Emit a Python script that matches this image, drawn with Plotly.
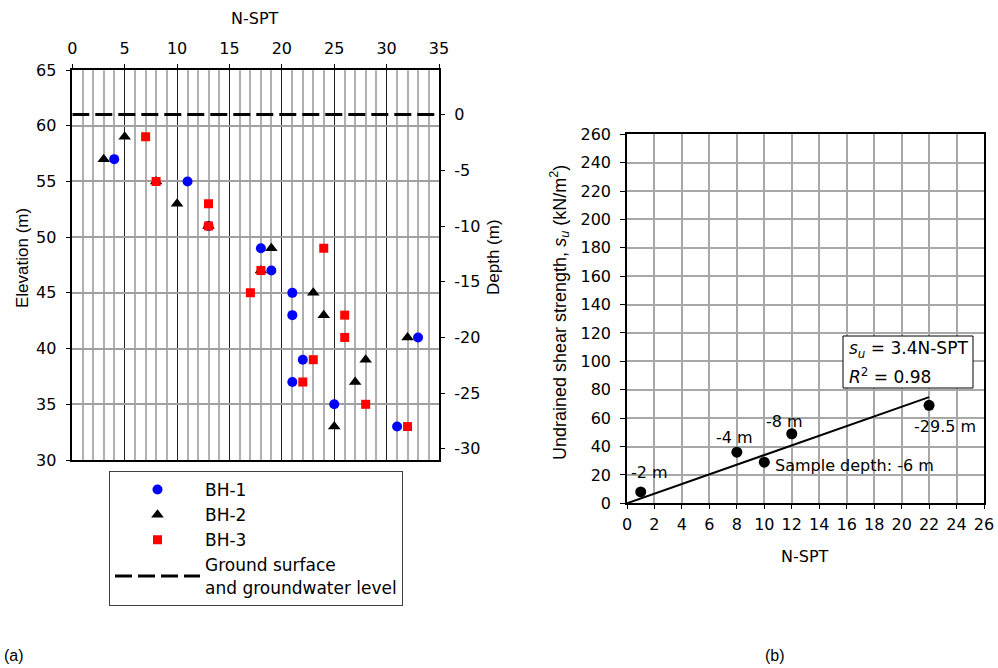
import plotly.graph_objects as go

# ---------------- data ----------------
# Left panel (a): N-SPT vs elevation for three boreholes
bh1_nspt = [4, 11, 13, 18, 19, 21, 21, 33, 22, 21, 25, 31]
bh1_elev = [57, 55, 51, 49, 47, 45, 43, 41, 39, 37, 35, 33]

bh2_nspt = [5, 3, 8, 10, 13, 19, 18, 23, 24, 32, 28, 27, 25]
bh2_elev = [59, 57, 55, 53, 51, 49, 47, 45, 43, 41, 39, 37, 33]

bh3_nspt = [7, 8, 13, 13, 24, 18, 17, 26, 26, 23, 22, 28, 32]
bh3_elev = [59, 55, 53, 51, 49, 47, 45, 43, 41, 39, 37, 35, 33]

ground_x = [0, 35]
ground_depth = [0, 0]
ground_elevation = 61

depth_ticks = [0, -5, -10, -15, -20, -25, -30]
depth_ticktext = ["0", "-5", "-10", "-15", "-20", "-25", "-30"]

# Right panel (b): undrained shear strength vs N-SPT
su_nspt = [1, 8, 10, 12, 22]
su_vals = [8, 36, 29, 49, 69]
su_labels = ["-2 m", "-4 m", "Sample depth: -6 m", "-8 m", "-29.5 m"]
trend_x = [0, 22]
trend_y = [0, 74.8]
eq_lines = ["<i>s<sub>u</sub></i> = 3.4N-SPT", "<i>R</i><sup>2</sup> = 0.98"]

FONT = "DejaVu Sans"
VFONT = "Liberation Sans"
W, H = 998, 668


def px(x):
    return x / W


def py(y):
    return 1 - y / H


fig = go.Figure()

# ---- left panel traces ----
fig.add_trace(go.Scatter(
    x=bh1_nspt, y=bh1_elev, mode="markers", name="BH-1",
    marker=dict(symbol="circle", size=10, color="#0000ff"),
    xaxis="x", yaxis="y"))
fig.add_trace(go.Scatter(
    x=bh2_nspt, y=bh2_elev, mode="markers", name="BH-2",
    marker=dict(symbol="triangle-up", size=11, color="#000000"),
    xaxis="x", yaxis="y"))
fig.add_trace(go.Scatter(
    x=bh3_nspt, y=bh3_elev, mode="markers", name="BH-3",
    marker=dict(symbol="square", size=9, color="#ff0000"),
    xaxis="x", yaxis="y"))
fig.add_trace(go.Scatter(
    x=ground_x, y=ground_depth, mode="lines",
    name="Ground surface<br>and groundwater level",
    line=dict(color="black", width=3, dash="17px,6px"),
    xaxis="x", yaxis="y2"))

# ---- right panel traces ----
fig.add_trace(go.Scatter(
    x=trend_x, y=trend_y, mode="lines", showlegend=False,
    line=dict(color="black", width=2), xaxis="x2", yaxis="y3"))
fig.add_trace(go.Scatter(
    x=su_nspt, y=su_vals, mode="markers", showlegend=False,
    marker=dict(symbol="circle", size=11, color="black"),
    xaxis="x2", yaxis="y3"))

# ---- axes ----
grid_gray = "#a8a8a8"
fig.update_layout(
    width=W, height=H, autosize=False,
    margin=dict(l=0, r=0, t=0, b=0, pad=0),
    paper_bgcolor="white", plot_bgcolor="white",
    font=dict(family=FONT, size=16, color="black"),
    xaxis=dict(
        domain=[px(72.3), px(439)], range=[0, 35], side="top",
        tick0=0, dtick=5, ticks="outside", ticklen=4, tickcolor="black",
        showgrid=True, gridcolor="#222222", gridwidth=1,
        minor=dict(dtick=1, showgrid=True, gridcolor="#b0b0b0", gridwidth=2, ticks=""),
        showline=True, linecolor="black", linewidth=1.5, mirror=True,
        zeroline=False, ticklabelstandoff=4, automargin=False,
        tickfont=dict(family=FONT, size=16),
        anchor="y"),
    yaxis=dict(
        domain=[py(460), py(70)], range=[30, 65],
        tick0=30, dtick=5, ticks="outside", ticklen=5, tickcolor="black",
        showgrid=True, gridcolor="#a0a0a0", gridwidth=2,
        showline=True, linecolor="black", linewidth=1.5, mirror=True,
        zeroline=False, ticklabelstandoff=6, automargin=False,
        tickfont=dict(family=FONT, size=16),
        anchor="x"),
    yaxis2=dict(
        overlaying="y", side="right", anchor="x",
        range=[30 - ground_elevation, 65 - ground_elevation],
        tickvals=depth_ticks, ticktext=depth_ticktext,
        ticks="outside", ticklen=5, tickcolor="black",
        showgrid=False, zeroline=False, showline=False,
        ticklabelstandoff=6, automargin=False,
        tickfont=dict(family=FONT, size=16)),
    xaxis2=dict(
        domain=[px(627), px(984)], range=[0, 26],
        tick0=0, dtick=2, ticks="outside", ticklen=4, tickcolor="black",
        showgrid=True, gridcolor=grid_gray, gridwidth=1.5,
        showline=True, linecolor="black", linewidth=1.5, mirror=True,
        zeroline=False, ticklabelstandoff=2, automargin=False,
        tickfont=dict(family=FONT, size=16),
        anchor="y3"),
    yaxis3=dict(
        domain=[py(503.3), py(134.3)], range=[0, 260],
        tick0=0, dtick=20, ticks="outside", ticklen=5, tickcolor="black",
        showgrid=True, gridcolor=grid_gray, gridwidth=1.5,
        showline=True, linecolor="black", linewidth=1.5, mirror=True,
        zeroline=False, ticklabelstandoff=6, automargin=False,
        tickfont=dict(family=FONT, size=16),
        anchor="x2"),
    legend=dict(
        x=px(109), y=py(471), xanchor="left", yanchor="top",
        bordercolor="#404040", borderwidth=1, bgcolor="white",
        itemwidth=85, tracegroupgap=0,
        font=dict(family=FONT, size=17)),
    showlegend=True,
)

# equation box frame
fig.add_shape(type="rect", xref="paper", yref="paper",
              x0=px(843), x1=px(973), y0=py(388), y1=py(336),
              line=dict(color="black", width=1), fillcolor="white", layer="above")

# ---- titles and labels ----
ann = []
ann.append(dict(text="N-SPT", x=px(255), y=py(18), xref="paper", yref="paper",
                xanchor="center", yanchor="middle", showarrow=False))
ann.append(dict(text="Elevation (m)", x=px(22), y=py(258), xref="paper", yref="paper",
                xanchor="center", yanchor="middle", textangle=-90, showarrow=False,
                font=dict(family=VFONT, size=17)))
ann.append(dict(text="Depth (m)", x=px(493), y=py(257), xref="paper", yref="paper",
                xanchor="center", yanchor="middle", textangle=-90, showarrow=False,
                font=dict(family=VFONT, size=17)))
ann.append(dict(text="Undrained shear strength, <i>s<sub>u</sub></i> (kN/m<sup>2</sup>)",
                x=px(559), y=py(313), xref="paper", yref="paper",
                xanchor="center", yanchor="middle", textangle=-90, showarrow=False,
                font=dict(family=VFONT, size=18)))
ann.append(dict(text="N-SPT", x=px(805), y=py(556), xref="paper", yref="paper",
                xanchor="center", yanchor="middle", showarrow=False))
for txt, yy in zip(eq_lines, [349, 376]):
    ann.append(dict(text=txt, x=px(847), y=py(yy), xref="paper", yref="paper",
                    xanchor="left", yanchor="middle", align="left", showarrow=False,
                    font=dict(family=FONT, size=17)))
ann.append(dict(text="(a)", x=px(2), y=py(655), xref="paper", yref="paper",
                xanchor="left", yanchor="middle", showarrow=False,
                font=dict(family="Liberation Sans", size=16)))
ann.append(dict(text="(b)", x=px(775), y=py(655), xref="paper", yref="paper",
                xanchor="center", yanchor="middle", showarrow=False,
                font=dict(family="Liberation Sans", size=16)))

# data-point labels (offsets in px relative to each point)
label_offsets = [(9, 19), (-2, 15), (9, -3), (-7, 12), (16, -21)]
label_anchor = ["center", "center", "left", "center", "center"]
for xv, yv, lab, (dx, dy), xa in zip(su_nspt, su_vals, su_labels, label_offsets, label_anchor):
    ann.append(dict(text=lab, x=xv, y=yv, xref="x2", yref="y3",
                    xanchor=xa, yanchor="middle", xshift=dx, yshift=dy,
                    showarrow=False))

fig.update_layout(annotations=ann)

fig.write_html("out.html")
